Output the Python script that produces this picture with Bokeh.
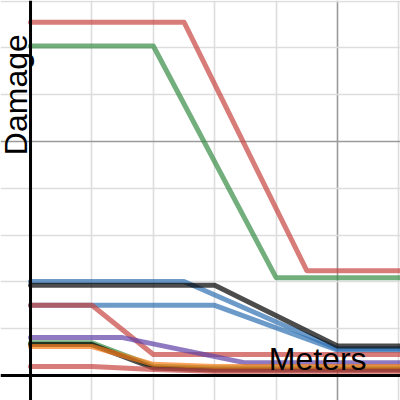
import math
from bokeh.plotting import figure
from bokeh.models import FixedTicker, Grid, Span
from bokeh.core.properties import value
from bokeh.embed import file_html
from bokeh.resources import INLINE

# ---- data (x in meters, y damage) ----
red_top_x = [0, 2.5, 4.5, 6.2]
red_top_y = [75.5, 75.5, 22.4, 22.4]
green_top_x = [0, 2.0, 4.0, 6.2]
green_top_y = [70.4, 70.4, 20.9, 20.9]
blue_a_x = [0, 2.5, 5.0, 6.2]
blue_a_y = [20.1, 20.1, 5.7, 5.7]
blue_b_x = [0, 3.0, 5.0, 6.2]
blue_b_y = [15.0, 15.0, 5.4, 5.4]
red_mid_x = [0, 1.0, 2.0, 6.2]
red_mid_y = [15.0, 15.0, 4.5, 4.5]
black_a_x = [0, 3.0, 5.0, 6.2]
black_a_y = [19.3, 19.3, 6.3, 6.3]
purple_x = [0, 1.5, 3.5, 6.2]
purple_y = [8.1, 8.1, 2.7, 2.7]
green_b_x = [0, 1.0, 2.0, 3.0, 6.2]
green_b_y = [7.0, 7.0, 2.0, 1.6, 1.6]
black_b_x = [0, 1.0, 2.0, 3.0, 6.2]
black_b_y = [6.6, 6.6, 1.6, 1.2, 1.2]
orange_x = [0, 1.0, 2.0, 3.0, 6.2]
orange_y = [6.2, 6.2, 2.4, 1.9, 1.9]
red_low_x = [0, 1.0, 2.0, 3.0, 6.2]
red_low_y = [1.9, 1.9, 1.3, 0.9, 0.9]

minor_x = [1, 2, 3, 4, 6]
major_x = [5]
minor_y = [10, 20, 30, 40, 60, 70, 80]
major_y = [50]

x_label = "Meters"
y_label = "Damage"

RED, GREEN, BLUE = "#c74440", "#388c46", "#2d70b3"
PURPLE, ORANGE, BLACK = "#6042a6", "#fa7e19", "#000000"

p = figure(width=400, height=400, output_backend="svg", toolbar_location=None,
           x_range=(-0.489, 6.026), y_range=(-5.34, 80.13),
           min_border=0, outline_line_color=None)
p.xaxis.visible = False
p.yaxis.visible = False
p.xgrid.visible = False
p.ygrid.visible = False

for ticks, col in ((minor_x, "#dddddd"), (major_x, "#9a9a9a")):
    p.add_layout(Grid(dimension=0, ticker=FixedTicker(ticks=ticks),
                      grid_line_color=col, grid_line_width=1.6))
for ticks, col in ((minor_y, "#dddddd"), (major_y, "#9a9a9a")):
    p.add_layout(Grid(dimension=1, ticker=FixedTicker(ticks=ticks),
                      grid_line_color=col, grid_line_width=1.6))

p.add_layout(Span(location=0, dimension="width", line_color="black", line_width=3))
p.add_layout(Span(location=0, dimension="height", line_color="black", line_width=3))

series = [
    (red_top_x, red_top_y, RED),
    (green_top_x, green_top_y, GREEN),
    (blue_a_x, blue_a_y, BLUE),
    (blue_b_x, blue_b_y, BLUE),
    (red_mid_x, red_mid_y, RED),
    (black_a_x, black_a_y, BLACK),
    (purple_x, purple_y, PURPLE),
    (green_b_x, green_b_y, GREEN),
    (black_b_x, black_b_y, BLACK),
    (orange_x, orange_y, ORANGE),
    (red_low_x, red_low_y, RED),
]
for xs, ys, c in series:
    p.line(xs, ys, line_color=c, line_alpha=0.7, line_width=5,
           line_join="round", line_cap="round")

fs = "32px"
p.text(x=[3.88], y=[3.63], text=[x_label], text_font=value("Liberation Sans"),
       text_font_size=fs, text_color="black", text_align="left",
       text_baseline="alphabetic")
p.text(x=[-0.24], y=[60.0], text=[y_label], text_font=value("Liberation Sans"),
       text_font_size=fs, text_color="black", text_align="center",
       text_baseline="alphabetic", angle=math.pi / 2)

open("out.html", "w").write(file_html(p, INLINE))
